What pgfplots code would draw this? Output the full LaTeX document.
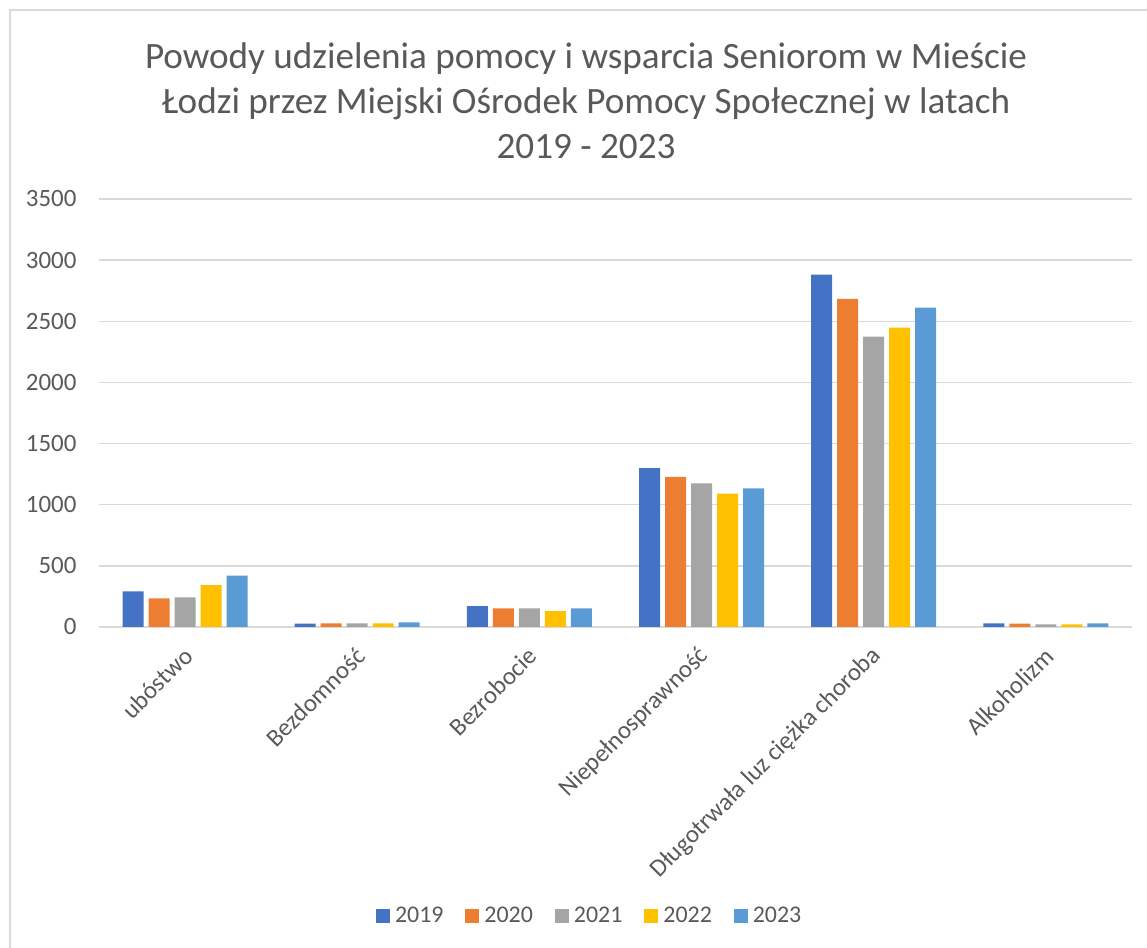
\documentclass[border=0pt]{standalone}
\usepackage{pgfplots}
\pgfplotsset{compat=1.18}
\usepackage{fontspec}
\setmainfont{Carlito}
\definecolor{c19}{HTML}{4472C4}
\definecolor{c20}{HTML}{ED7D31}
\definecolor{c21}{HTML}{A5A5A5}
\definecolor{c22}{HTML}{FFC000}
\definecolor{c23}{HTML}{5B9BD5}
\definecolor{txt}{HTML}{595959}
\definecolor{grd}{HTML}{D9D9D9}
\begin{document}
\begin{tikzpicture}[x=1bp,y=1bp]
\useasboundingbox (0,0) rectangle (1147,948);
\draw[grd, line width=1.5bp] (10,-10) -- (10,938) -- (1160,938);
\node[txt, align=center, font=\fontsize{37.3}{45}\selectfont] at (586,847) {Powody udzielenia pomocy i wsparcia Seniorom w Mieście\\Łodzi przez Miejski Ośrodek Pomocy Społecznej w latach\\2019 - 2023};
\begin{axis}[
  at={(99bp,321bp)}, anchor=south west,
  scale only axis, width=1033bp, height=428bp,
  ymin=0, ymax=3500, ytick={0,500,...,3500},
  xmin=-0.5, xmax=5.5,
  xtick={0,...,5},
  xticklabels={ubóstwo,Bezdomność,Bezrobocie,Niepełnosprawność,Długotrwała luz ciężka choroba,Alkoholizm},
  ybar=5bp, bar width=21bp,
  axis line style={draw=none},
  major tick length=0pt,
  ymajorgrids, grid style={grd, line width=1.5bp},
  ticklabel style={txt, font=\fontsize{25}{30}\selectfont},
  yticklabel style={xshift=-19bp},
  /pgf/number format/assume math mode=true,
  /pgf/number format/1000 sep={},
  xticklabel style={rotate=45, anchor=east, xshift=-12bp, yshift=-20bp},
  legend style={at={(0.475,-0.675)}, anchor=center, draw=none, legend columns=-1,
    font=\fontsize{24}{29}\selectfont, text=txt,
    /tikz/every odd column/.append style={column sep=3bp},
    /tikz/every even column/.append style={column sep=20bp}},
  legend image code/.code={\fill[#1, draw=none] (0bp,-7bp) rectangle (14bp,7bp);},
]
\addplot[fill=c19, draw=none] coordinates {(0,292) (1,28) (2,170) (3,1300) (4,2882) (5,30)};
\addplot[fill=c20, draw=none] coordinates {(0,235) (1,30) (2,153) (3,1227) (4,2683) (5,27)};
\addplot[fill=c21, draw=none] coordinates {(0,243) (1,30) (2,153) (3,1175) (4,2374) (5,22)};
\addplot[fill=c22, draw=none] coordinates {(0,342) (1,30) (2,129) (3,1090) (4,2448) (5,22)};
\addplot[fill=c23, draw=none] coordinates {(0,421) (1,38) (2,153) (3,1134) (4,2612) (5,30)};
\legend{2019,2020,2021,2022,2023}
\end{axis}
\end{tikzpicture}
\end{document}
